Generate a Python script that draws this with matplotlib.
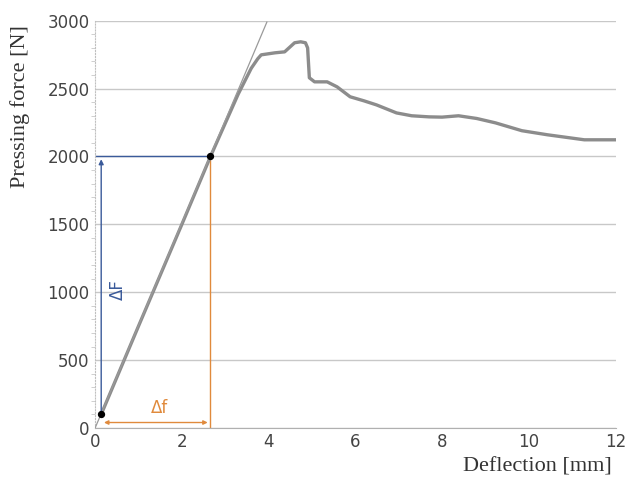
import matplotlib.pyplot as plt
from matplotlib.ticker import MultipleLocator

deflection = [0.14, 1.0, 2.0, 2.66, 3.3, 3.6, 3.75, 3.83, 4.15, 4.37, 4.60, 4.74, 4.85,
              4.90, 4.94, 5.06, 5.35, 5.58, 5.88, 6.20, 6.49, 6.95, 7.30, 7.70, 8.00,
              8.38, 8.80, 9.23, 9.84, 10.43, 11.28, 12.0]
force = [100, 750, 1500, 2000, 2460, 2650, 2720, 2749, 2764, 2771, 2838, 2845, 2838,
         2800, 2580, 2550, 2550, 2513, 2440, 2410, 2380, 2321, 2300, 2292, 2290,
         2300, 2280, 2248, 2190, 2160, 2123, 2123]

# tangent line through the two marked points
tangent_x = [0.0, 3.96]
tangent_y = [0.0, 2990]

p1 = (0.14, 100)
p2 = (2.66, 2000)

blue = '#3a5a9a'
orange = '#e08a3c'

fig = plt.figure(figsize=(6.3, 4.83), dpi=100)
ax = fig.add_axes([0.151, 0.114, 0.826, 0.843])

ax.plot(deflection, force, color='#8c8c8c', linewidth=2.4, zorder=3)
ax.plot(tangent_x, tangent_y, color='#9a9a9a', linewidth=0.9, zorder=3)

# delta F
ax.plot([0, p2[0]], [p2[1], p2[1]], color=blue, linewidth=1.0, zorder=2)
ax.annotate('', xy=(p1[0], p2[1]), xytext=(p1[0], p1[1]),
            arrowprops=dict(arrowstyle='-|>', color=blue, lw=1.0, mutation_scale=7))
ax.text(0.52, 1020, 'ΔF', color=blue, rotation=90, ha='center', va='center', fontsize=12)

# delta f
ax.plot([p2[0], p2[0]], [0, p2[1]], color=orange, linewidth=1.0, zorder=2)
ax.annotate('', xy=(p2[0], 40), xytext=(p1[0], 40),
            arrowprops=dict(arrowstyle='<|-|>', color=orange, lw=1.0, mutation_scale=6))
ax.text(1.48, 150, 'Δf', color=orange, ha='center', va='center', fontsize=12)

ax.scatter([p1[0], p2[0]], [p1[1], p2[1]], color='black', s=18, zorder=5)

ax.set_xlim(0, 12)
ax.set_ylim(0, 3000)
ax.set_xticks([0, 2, 4, 6, 8, 10, 12])
ax.set_yticks([0, 500, 1000, 1500, 2000, 2500, 3000])
ax.yaxis.set_minor_locator(MultipleLocator(100))
ax.grid(axis='y', color='#c8c8c8', linewidth=1.0)
ax.set_axisbelow(True)

for s in ['top', 'right']:
    ax.spines[s].set_visible(False)
ax.spines['left'].set_color('#c0c0c0')
ax.spines['left'].set_linestyle(':')
ax.spines['bottom'].set_color('#b0b0b0')
ax.tick_params(axis='both', which='major', length=0, labelsize=12, labelcolor='#444444', pad=4)
ax.tick_params(axis='y', which='minor', length=3, color='#c8c8c8')

ax.set_ylabel('Pressing force [N]', fontsize=16, family='Liberation Serif', color='#333333')
ax.set_xlabel('Deflection [mm]', fontsize=16, family='Liberation Serif', color='#333333')
ax.xaxis.set_label_coords(0.85, -0.072)
ax.yaxis.set_label_coords(-0.125, 0.79)

fig.savefig('out.png', dpi=100)
